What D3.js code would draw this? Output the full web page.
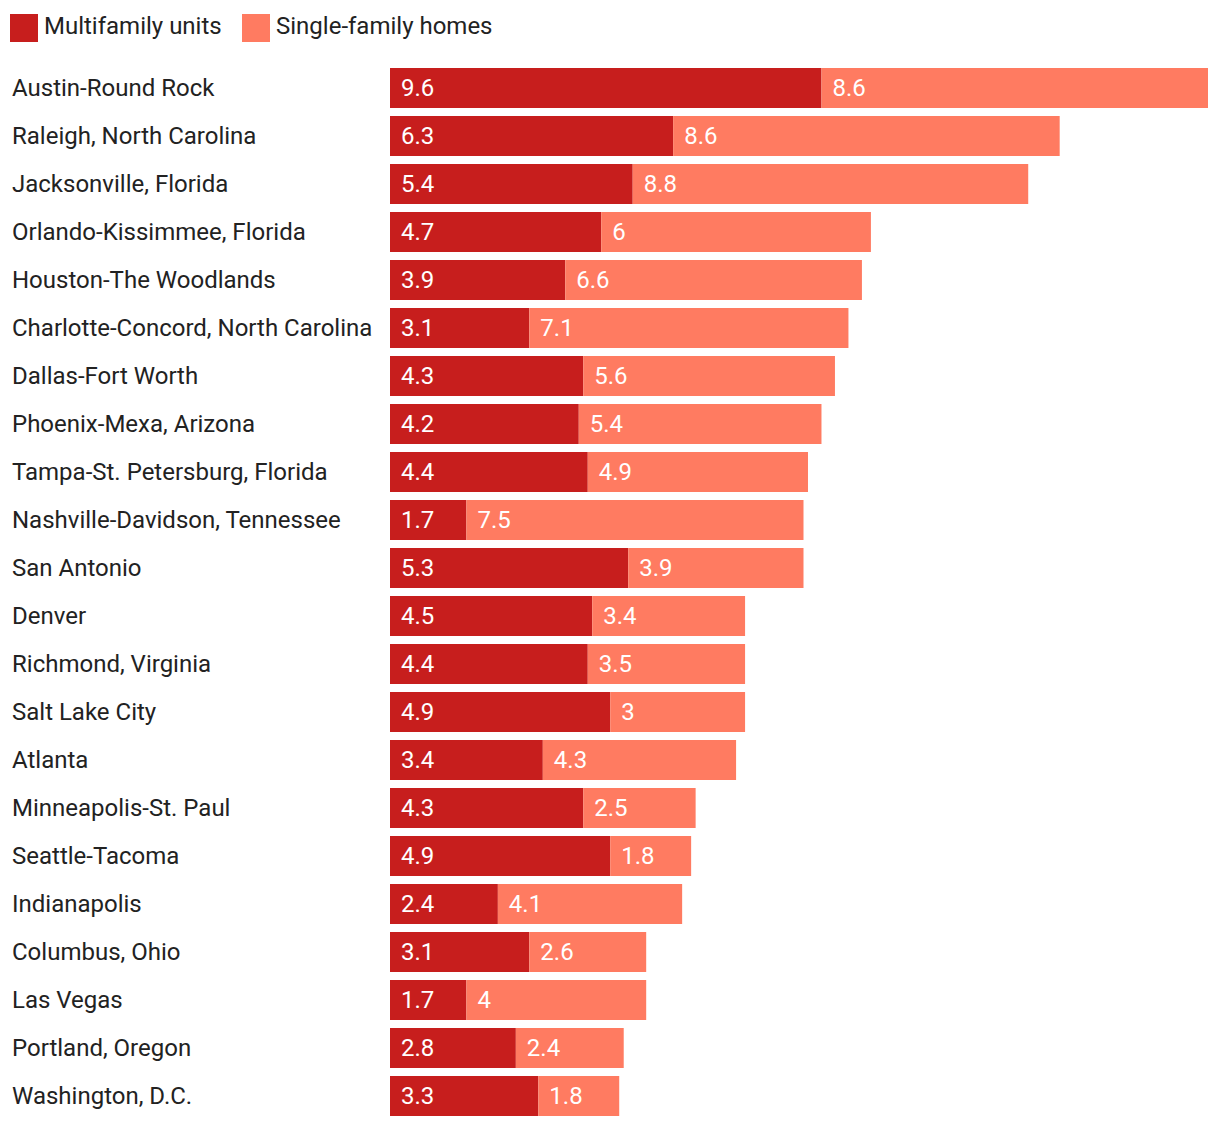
<!DOCTYPE html>
<html>
<head>
<meta charset="utf-8">
<script src="https://cdn.jsdelivr.net/npm/d3@7"></script>
<style>
  body { margin: 0; background: #fff; }
  svg text { font-family: Roboto, "Noto Sans", sans-serif; }
</style>
</head>
<body>
<div id="chart"></div>
<script>

var metros = ["Austin-Round Rock", "Raleigh, North Carolina", "Jacksonville, Florida",
  "Orlando-Kissimmee, Florida", "Houston-The Woodlands", "Charlotte-Concord, North Carolina",
  "Dallas-Fort Worth", "Phoenix-Mexa, Arizona", "Tampa-St. Petersburg, Florida",
  "Nashville-Davidson, Tennessee", "San Antonio", "Denver", "Richmond, Virginia",
  "Salt Lake City", "Atlanta", "Minneapolis-St. Paul", "Seattle-Tacoma", "Indianapolis",
  "Columbus, Ohio", "Las Vegas", "Portland, Oregon", "Washington, D.C."];

var multifamily = [9.6, 6.3, 5.4, 4.7, 3.9, 3.1, 4.3, 4.2, 4.4, 1.7, 5.3, 4.5, 4.4, 4.9, 3.4, 4.3, 4.9, 2.4, 3.1, 1.7, 2.8, 3.3];
var singleFamily = [8.6, 8.6, 8.8, 6, 6.6, 7.1, 5.6, 5.4, 4.9, 7.5, 3.9, 3.4, 3.5, 3, 4.3, 2.5, 1.8, 4.1, 2.6, 4, 2.4, 1.8];

var seriesNames = ["Multifamily units", "Single-family homes"];
var colors = ["#c71e1d", "#ff7b61"];

var W = 1220, H = 1128;
var margin = {top: 68, left: 390, right: 12};
var step = 48, gap = 8;

var data = metros.map(function(m, i) {
  return {name: m, multi: multifamily[i], single: singleFamily[i]};
});

var svg = d3.select("#chart").append("svg")
  .attr("width", W)
  .attr("height", H);

var x = d3.scaleLinear()
  .domain([0, d3.max(data, function(d) { return d.multi + d.single; })])
  .range([margin.left, W - margin.right]);

// outer padding = half inner so that step stays exactly 48
var y = d3.scaleBand()
  .domain(metros)
  .range([margin.top - gap / 2, margin.top - gap / 2 + metros.length * step])
  .paddingInner(gap / step)
  .paddingOuter(gap / step / 2);

// legend
var legend = svg.append("g");
var lx = [10, 242];
seriesNames.forEach(function(s, i) {
  legend.append("rect")
    .attr("x", lx[i]).attr("y", 14)
    .attr("width", 28).attr("height", 28)
    .attr("fill", colors[i]);
  legend.append("text")
    .attr("x", lx[i] + 34).attr("y", 26)
    .attr("dy", "0.35em")
    .attr("font-size", 24)
    .attr("fill", "#222")
    .text(s);
});

var rows = svg.selectAll(".row")
  .data(data)
  .enter().append("g")
  .attr("class", "row")
  .attr("transform", function(d) { return "translate(0," + y(d.name) + ")"; });

var bh = y.bandwidth();

rows.append("text")
  .attr("x", 12).attr("y", bh / 2)
  .attr("dy", "0.35em")
  .attr("font-size", 24)
  .attr("fill", "#222")
  .text(function(d) { return d.name; });

rows.append("rect")
  .attr("x", x(0))
  .attr("width", function(d) { return x(d.multi) - x(0); })
  .attr("height", bh)
  .attr("fill", colors[0]);

rows.append("rect")
  .attr("x", function(d) { return x(d.multi); })
  .attr("width", function(d) { return x(d.multi + d.single) - x(d.multi); })
  .attr("height", bh)
  .attr("fill", colors[1]);

rows.append("text")
  .attr("x", x(0) + 11).attr("y", bh / 2)
  .attr("dy", "0.35em")
  .attr("font-size", 24)
  .attr("fill", "#fff")
  .text(function(d) { return d.multi; });

rows.append("text")
  .attr("x", function(d) { return x(d.multi) + 11; }).attr("y", bh / 2)
  .attr("dy", "0.35em")
  .attr("font-size", 24)
  .attr("fill", "#fff")
  .text(function(d) { return d.single; });

</script>
</body>
</html>
